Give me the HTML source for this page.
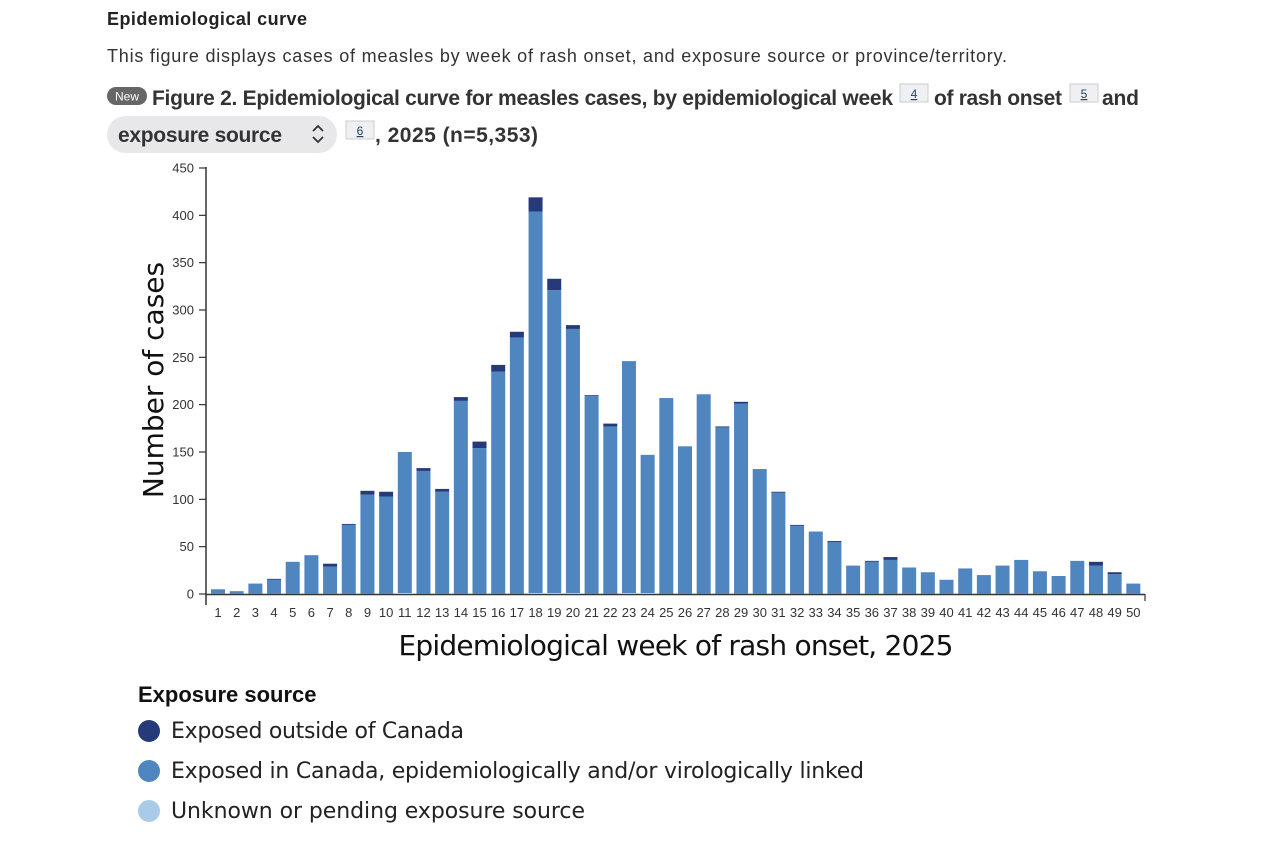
<!DOCTYPE html>
<html><head><meta charset="utf-8"><style>
html,body{margin:0;padding:0;background:#fff;width:1280px;height:845px;overflow:hidden}
svg{display:block;font-family:"Liberation Sans",sans-serif}
</style></head><body>
<svg id="chart" width="1280" height="845" viewBox="0 0 1280 845">
<text x="107" y="25" font-size="18" font-weight="bold" fill="#222" textLength="200">Epidemiological curve</text>
<text x="107" y="62" font-size="18" fill="#333" textLength="900">This figure displays cases of measles by week of rash onset, and exposure source or province/territory.</text>
<g><rect x="107" y="87" width="40" height="18" rx="9" fill="#666"/><text x="127" y="100.5" font-size="12" fill="#fff" text-anchor="middle">New</text></g>
<g font-size="21" font-weight="bold" fill="#333">
<text x="152" y="105" textLength="741">Figure 2. Epidemiological curve for measles cases, by epidemiological week</text>
<g><rect x="900" y="84" width="28" height="18" fill="#eef0f3" stroke="#ccc"/><text x="914" y="98" font-size="12" font-weight="normal" fill="#284162" text-anchor="middle" text-decoration="underline">4</text></g>
<text x="934" y="105" textLength="128">of rash onset</text>
<g><rect x="1070" y="84" width="28" height="18" fill="#eef0f3" stroke="#ccc"/><text x="1084" y="98" font-size="12" font-weight="normal" fill="#284162" text-anchor="middle" text-decoration="underline">5</text></g>
<text x="1102" y="105" textLength="37">and</text>
<g><rect x="107" y="116" width="230" height="37" rx="18.5" fill="#e8e8ea"/><text x="118" y="142" textLength="164">exposure source</text><path d="M313 131l5-5 5 5M313 137l5 5 5-5" fill="none" stroke="#333" stroke-width="1.8"/></g>
<g><rect x="346" y="121" width="28" height="18" fill="#eef0f3" stroke="#ccc"/><text x="360" y="135" font-size="12" font-weight="normal" fill="#284162" text-anchor="middle" text-decoration="underline">6</text></g>
<text x="375" y="142" textLength="163">, 2025 (n=5,353)</text>
</g>
<g id="plot"></g>
<text transform="translate(163,380) rotate(-90)" font-size="28" fill="#111" text-anchor="middle" font-family="DejaVu Sans, sans-serif">Number of cases</text>
<text x="676" y="655" font-size="28" fill="#111" text-anchor="middle" textLength="555" font-family="DejaVu Sans, sans-serif">Epidemiological week of rash onset, 2025</text>
<text x="138" y="702" font-size="22" font-weight="bold" fill="#111">Exposure source</text>
<g><circle cx="149" cy="731" r="11" fill="#263a7a"/><text x="171" y="738" font-size="22" fill="#222" font-family="DejaVu Sans, sans-serif" textLength="293">Exposed outside of Canada</text></g>
<g><circle cx="149" cy="771" r="11" fill="#4f86c0"/><text x="171" y="778" font-size="22" fill="#222" font-family="DejaVu Sans, sans-serif" textLength="693">Exposed in Canada, epidemiologically and/or virologically linked</text></g>
<g><circle cx="149" cy="811" r="11" fill="#a9cbe8"/><text x="171" y="818" font-size="22" fill="#222" font-family="DejaVu Sans, sans-serif" textLength="414">Unknown or pending exposure source</text></g>
</svg>
<script>
const weeks = [1,2,3,4,5,6,7,8,9,10,11,12,13,14,15,16,17,18,19,20,21,22,23,24,25,26,27,28,29,30,31,32,33,34,35,36,37,38,39,40,41,42,43,44,45,46,47,48,49,50];
const inCanada = [5,3,11,15,34,41,29,73,105,103,149,130,108,204,154,235,271,403,320,279,209,177,245,146,207,156,211,176,201,132,107,72,66,55,30,34,36,28,23,15,27,20,30,36,24,19,35,30,21,11];
const outside = [0,0,0,1,0,0,3,1,4,5,0,3,3,4,7,7,6,15,12,4,1,3,0,0,0,0,0,1,2,0,1,1,0,1,0,1,3,0,0,0,0,0,0,0,0,0,0,4,2,0];
const unknown = [0,0,0,0,0,0,0,0,0,0,1,0,0,0,0,0,0,1,1,1,0,0,1,1,0,0,0,0,0,0,0,0,0,0,0,0,0,0,0,0,0,0,0,0,0,0,0,0,0,0];
const yTicks = [0,50,100,150,200,250,300,350,400,450];

const NS = "http://www.w3.org/2000/svg";
const g = document.getElementById('plot');
const y = v => 594 - v * (426/450);
const x = w => 218 + (w - 1) * 18.68;
const bw = 14;
function mk(tag, attrs){const e=document.createElementNS(NS,tag);for(const k in attrs)e.setAttribute(k,attrs[k]);g.appendChild(e);return e;}

const yaxis = mk('line',{x1:206,y1:167,x2:206,y2:605,stroke:'#333','stroke-width':1.5});


yTicks.forEach(t=>{
  const tk = mk('line',{x1:199,x2:206,y1:y(t),y2:y(t),stroke:'#333','stroke-width':1.2});
  
  
  const tl = mk('text',{x:194,y:y(t)+4.5,'font-size':13,fill:'#333','text-anchor':'end'});
  tl.textContent = t;
  
  
});
const xaxis = mk('line',{x1:206,y1:594.5,x2:1145,y2:594.5,stroke:'#333','stroke-width':1.5});


const xend = mk('line',{x1:1145,y1:594,x2:1145,y2:601,stroke:'#333','stroke-width':1.2});



weeks.forEach((w,i)=>{
  const cx = x(w);
  let base = 0;
  const segs = [[unknown[i],'#a9cbe8','bar-unknown'],[inCanada[i],'#4f86c0','bar-in-canada'],[outside[i],'#263a7a','bar-outside']];
  segs.forEach(([v,c,n])=>{
    if(v<=0) return;
    const r = mk('rect',{x:cx-bw/2,y:y(base+v),width:bw,height:y(base)-y(base+v),fill:c});
    
    
    base += v;
  });
  const lb = mk('text',{x:cx,y:617,'font-size':13,fill:'#333','text-anchor':'middle'});
  lb.textContent = w;
  
  
});
</script>
</body></html>
